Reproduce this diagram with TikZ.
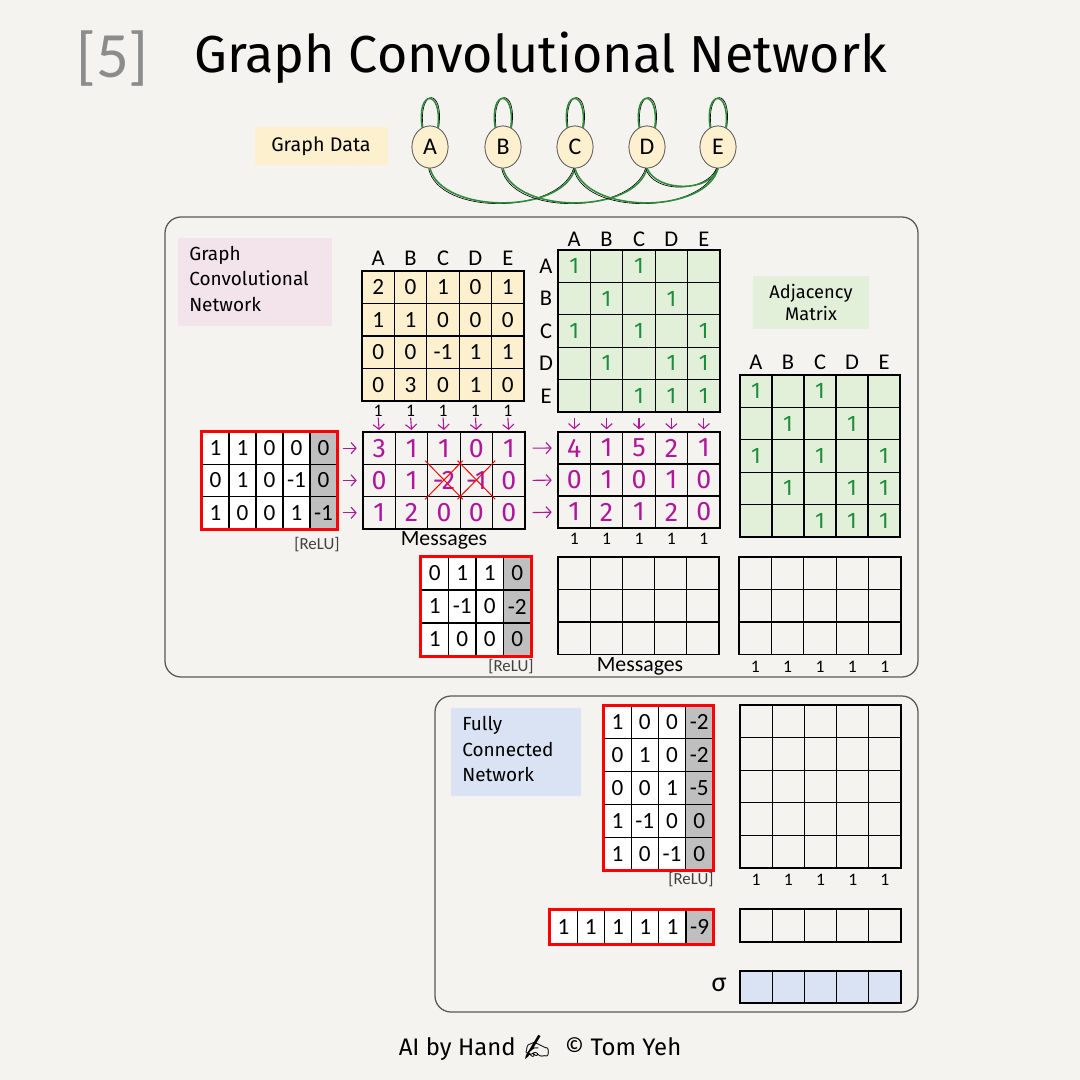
\documentclass[tikz,border=0pt]{standalone}
\usepackage{fontspec}
\setmainfont{Carlito}
\newfontfamily\hand{Fira Sans}
\newfontfamily\emojifont{Noto Emoji}
\usetikzlibrary{arrows.meta,shapes.geometric}
\definecolor{paper}{HTML}{F4F3F0}
\definecolor{yel}{HTML}{FDF0CF}
\definecolor{grn}{HTML}{E2F0D9}
\definecolor{pnk}{HTML}{F2E4EA}
\definecolor{blu}{HTML}{DAE3F3}
\definecolor{gcell}{HTML}{BFBFBF}
\definecolor{mag}{HTML}{B0169C}
\definecolor{gstroke}{HTML}{1E8C3C}
\definecolor{edgegreen}{HTML}{2E8B3A}
\definecolor{numgray}{HTML}{8C8C8C}

% #1 name #2 x0 #3 y0 #4 w #5 h #6 style #7 gray column #8 rows
\newcommand\valmat[8]{%
  \foreach \row [count=\i] in {#8} {
    \foreach \v [count=\j] in \row {
      \ifnum\j=#7\relax\tikzset{curcell/.style={fill=gcell}}\else\tikzset{curcell/.style={}}\fi
      \node[cell,#6,curcell,minimum width=#4*0.025cm,minimum height=#5*0.025cm]
        (#1-\i-\j) at ({#2+(\j-0.5)*#4},{#3+(\i-0.5)*#5}) {\v};
    }
  }
}
% #1 name #2 x0 #3 y0 #4 w #5 h #6 rows #7 cols #8 style
\newcommand\emptygrid[8]{%
  \foreach \i in {1,...,#6} {
    \foreach \j in {1,...,#7} {
      \node[cell,#8,minimum width=#4*0.025cm,minimum height=#5*0.025cm]
        (#1-\i-\j) at ({#2+(\j-0.5)*#4},{#3+(\i-0.5)*#5}) {};
    }
  }
}

\begin{document}
\begin{tikzpicture}[x=0.025cm,y=-0.025cm,
  cell/.style={draw=black, line width=0.9pt, inner sep=0pt, font=\fontsize{16.5}{16.5}\selectfont},
  handdig/.style={text=mag, font=\hand\fontsize{19}{19}\selectfont},
  gone/.style={text=gstroke, font=\hand\fontsize{16}{16}\selectfont},
  lab/.style={font=\fontsize{16}{16}\selectfont},
  smalllab/.style={font=\fontsize{12.5}{12.5}\selectfont},
  relu/.style={text=black!75, font=\fontsize{12}{12}\selectfont},
  redb/.style={draw=red, line width=2.2pt},
  marrow/.style={draw=mag, line width=0.8pt, -{Straight Barb[length=3.5pt,width=8pt]}},
  edgeg/.style={draw=edgegreen, line width=1.1pt},
  edgek/.style={draw=black, line width=0.45pt},
  gnode/.style={ellipse, draw=gray!70!black, line width=0.5pt, fill=yel, minimum width=0.9cm, minimum height=1.05cm, inner sep=0pt, font=\fontsize{17}{17}\selectfont},
  outerbox/.style={draw=black!65, line width=0.9pt, rounded corners=0.4cm},
  tag/.style={inner sep=0pt},
  tagtext/.style={anchor=west, align=left, font=\hand\fontsize{13.5}{17.8}\selectfont, inner sep=0pt}
]
\fill[paper] (0,0) rectangle (1080,1080);
\useasboundingbox (0,0) rectangle (1080,1080);

% ---- title ----
\node[anchor=west, text=numgray, inner sep=0pt] (num) at (76,59) {\fontsize{46}{46}\selectfont [5]};
\node[anchor=west, inner sep=0pt] (title) at (194,58) {\hand\fontsize{37}{40}\selectfont Graph Convolutional Network};

% ---- graph data ----
\node[tag, fill=yel, minimum width=133*0.025cm, minimum height=38*0.025cm, font=\hand\fontsize{14}{14}\selectfont] (gdlabel) at (321,146) {Graph Data};

\coordinate (pA) at (430,147);
\coordinate (pB) at (503,147);
\coordinate (pC) at (575,147);
\coordinate (pD) at (647,147);
\coordinate (pE) at (718,147);
\node[gnode] (A) at (pA) {A};
\node[gnode] (B) at (pB) {B};
\node[gnode] (C) at (pC) {C};
\node[gnode] (D) at (pD) {D};
\node[gnode] (E) at (pE) {E};

\foreach \n in {A,B,C,D,E} {
  \draw[edgek] ([xshift=0.6pt]\n.112) .. controls +(-5,-40) and +(6,-40) .. ([xshift=0.6pt]\n.68);
  \draw[edgeg] (\n.112) .. controls +(-6,-39) and +(5,-39) .. (\n.68);
}
\draw[edgek] ([xshift=-1pt]A.south) .. controls +(10,48) and +(-14,46) .. ([xshift=-1pt]C.south);
\draw[edgeg] (A.south) .. controls +(12,46) and +(-12,46) .. (C.south);
\draw[edgek] ([xshift=-1pt]B.south) .. controls +(10,48) and +(-14,46) .. ([xshift=-1pt]D.south);
\draw[edgeg] (B.south) .. controls +(12,46) and +(-12,46) .. (D.south);
\draw[edgek] ([xshift=-1pt]C.south) .. controls +(10,48) and +(-14,46) .. ([xshift=-1pt]E.south);
\draw[edgeg] (C.south) .. controls +(12,46) and +(-12,46) .. (E.south);
\draw[edgek] ([xshift=-1pt]D.south) .. controls +(8,26) and +(-10,24) .. ([xshift=-1pt]E.south);
\draw[edgeg] (D.south) .. controls +(10,24) and +(-8,24) .. (E.south);
% redraw nodes on top
\node[gnode] (A2) at (pA) {A};
\node[gnode] (B2) at (pB) {B};
\node[gnode] (C2) at (pC) {C};
\node[gnode] (D2) at (pD) {D};
\node[gnode] (E2) at (pE) {E};

% ---- GCN box ----
\node[outerbox, minimum width=753*0.025cm, minimum height=460*0.025cm, inner sep=0pt] (gcnbox) at (541.5,447) {};
\node[tag, fill=pnk, minimum width=154*0.025cm, minimum height=88*0.025cm] (gcnlabel) at (255,282) {};
\node[tagtext] (gcntext) at (189,279) {Graph\\Convolutional\\Network};

% feature matrix X
\valmat{X}{362}{271}{32.4}{32.5}{fill=yel}{0}{{2,0,1,0,1},{1,1,0,0,0},{0,0,-1,1,1},{0,3,0,1,0}}
\foreach \l [count=\j] in {A,B,C,D,E} {
  \node[lab] (Xh-\j) at ({362+(\j-0.5)*32.4},258) {\l};
  \node[smalllab, inner sep=0pt] (Xo-\j) at ({362+(\j-0.5)*32.4},411) {1};
}

% adjacency G
\emptygrid{G}{558}{250}{32.4}{32.4}{5}{5}{fill=grn}
\foreach \l [count=\j] in {A,B,C,D,E} {
  \node[lab] (Gh-\j) at ({558+(\j-0.5)*32.4},239) {\l};
  \node[lab] (Gr-\j) at (546,{250+(\j-0.5)*32.4}) {\l};
}
\foreach \c in {1-1,1-3,2-2,2-4,3-1,3-3,3-5,4-2,4-4,4-5,5-3,5-4,5-5} {
  \node[gone] (G-\c-t) at (G-\c) {1};
}

% weight W1
\valmat{W}{202}{432}{27}{32.3}{fill=white}{5}{{1,1,0,0,0},{0,1,0,-1,0},{1,0,0,1,-1}}
\draw[redb] (W-1-1.north west) rectangle (W-3-5.south east);
\node[relu] (relu1) at (317,545) {[ReLU]};

% messages 1
\valmat{M}{363}{432}{32.4}{32.3}{handdig}{0}{{3,1,1,0,1},{0,1,-2,-1,0},{1,2,0,0,0}}
\draw[red, line width=0.7pt] ([shift={(-2,-3)}]M-2-3.north west) -- ([shift={(2,2)}]M-2-3.south east);
\draw[red, line width=0.7pt] ([shift={(2,-3)}]M-2-3.north east) -- ([shift={(-2,2)}]M-2-3.south west);
\draw[red, line width=0.7pt] ([shift={(-2,-3)}]M-2-4.north west) -- ([shift={(2,2)}]M-2-4.south east);
\draw[red, line width=0.7pt] ([shift={(2,-3)}]M-2-4.north east) -- ([shift={(-2,2)}]M-2-4.south west);
\node[font=\fontsize{15.5}{15.5}\selectfont] (msg1) at (444,540) {Messages};

% aggregated
\valmat{N}{558}{432}{32.4}{32}{handdig}{0}{{4,1,5,2,1},{0,1,0,1,0},{1,2,1,2,0}}
\foreach \j in {1,...,5} {
  \node[smalllab] (No-\j) at ({558+(\j-0.5)*32.4},539) {1};
}

% arrows
\foreach \j in {1,...,5} {
  \draw[marrow, shorten <=0.5pt, shorten >=1pt] (Xo-\j.south) -- (M-1-\j.north);
  \draw[marrow, shorten <=4pt, shorten >=1.5pt] (G-5-\j.south) -- (N-1-\j.north);
}
\foreach \i in {1,2,3} {
  \draw[marrow, shorten <=3.5pt, shorten >=4pt] (W-\i-5.east) -- (M-\i-1.west);
  \draw[marrow, shorten <=5pt, shorten >=4pt] (M-\i-5.east) -- (N-\i-1.west);
}

% adjacency label + R
\node[tag, fill=grn, minimum width=116*0.025cm, minimum height=53*0.025cm, align=center, font=\hand\fontsize{13}{15}\selectfont] (adjlabel) at (811,302.5) {Adjacency\\Matrix};
\emptygrid{R}{740}{375}{32}{32.4}{5}{5}{fill=grn}
\foreach \l [count=\j] in {A,B,C,D,E} {
  \node[lab] (Rh-\j) at ({740+(\j-0.5)*32},362) {\l};
}
\foreach \c in {1-1,1-3,2-2,2-4,3-1,3-3,3-5,4-2,4-4,4-5,5-3,5-4,5-5} {
  \node[gone] (R-\c-t) at (R-\c) {1};
}

% second layer
\valmat{V}{421}{557}{27.5}{33}{fill=white}{4}{{0,1,1,0},{1,-1,0,-2},{1,0,0,0}}
\draw[redb] (V-1-1.north west) rectangle (V-3-4.south east);
\node[relu] (relu2) at (511,667) {[ReLU]};
\emptygrid{P}{558}{557}{32.2}{32.5}{3}{5}{}
\node[font=\fontsize{15.5}{15.5}\selectfont] (msg2) at (640,666) {Messages};
\emptygrid{Q}{739}{557}{32.4}{32.5}{3}{5}{}
\foreach \j in {1,...,5} {
  \node[smalllab] (Qo-\j) at ({739+(\j-0.5)*32.4},667) {1};
}

% ---- FC box ----
\node[outerbox, minimum width=483*0.025cm, minimum height=316*0.025cm, inner sep=0pt] (fcbox) at (676.5,854) {};
\node[tag, fill=blu, minimum width=130*0.025cm, minimum height=88*0.025cm] (fclabel) at (516,752) {};
\node[tagtext] (fctext) at (462,749) {Fully\\Connected\\Network};

\valmat{F}{604}{706}{27.2}{32.8}{fill=white}{4}{{1,0,0,-2},{0,1,0,-2},{0,0,1,-5},{1,-1,0,0},{1,0,-1,0}}
\draw[redb] (F-1-1.north west) rectangle (F-5-4.south east);
\node[relu] (relu3) at (691,880) {[ReLU]};
\emptygrid{H}{740}{705}{32.2}{32.6}{5}{5}{}
\foreach \j in {1,...,5} {
  \node[smalllab] (Ho-\j) at ({740+(\j-0.5)*32.2},880) {1};
}

\valmat{O}{550}{910}{27.2}{34}{fill=white}{6}{{1,1,1,1,1,-9}}
\draw[redb] (O-1-1.north west) rectangle (O-1-6.south east);
\emptygrid{S}{740}{909}{32.2}{33}{1}{5}{}

\node[font=\fontsize{20}{20}\selectfont] (sigma) at (719,985) {σ};
\emptygrid{Y}{740}{971}{32.2}{32}{1}{5}{fill=blu}

% ---- footer ----
\node[font=\hand\fontsize{17}{17}\selectfont] (footer) at (540,1048) {AI by Hand {\emojifont ✍} \ © Tom Yeh};
\end{tikzpicture}
\end{document}
